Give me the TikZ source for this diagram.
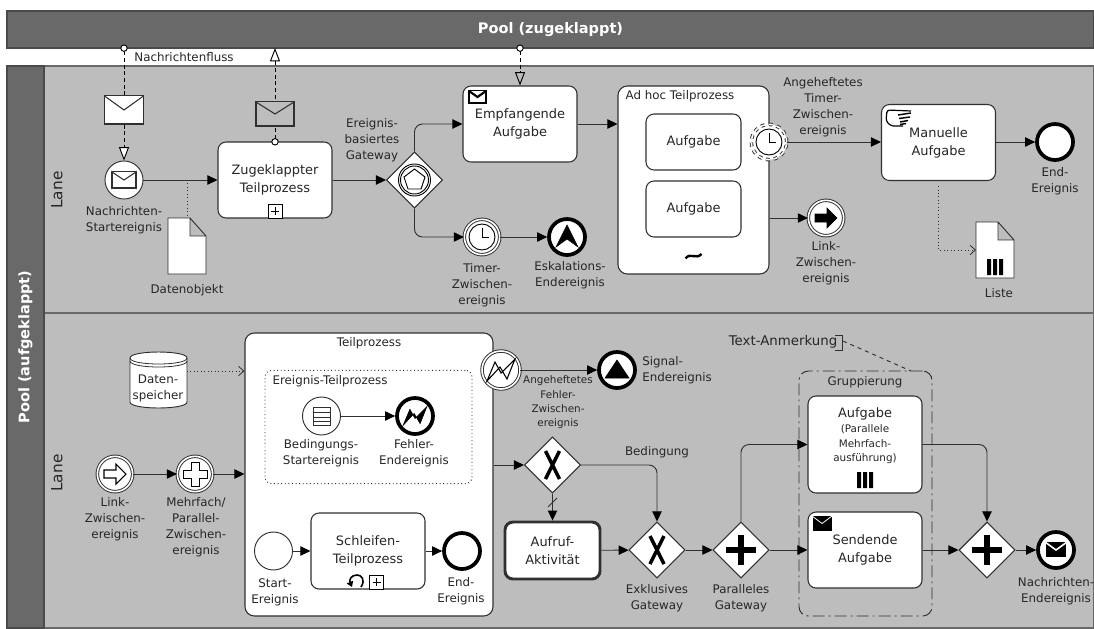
\documentclass[tikz,border=0pt]{standalone}
\usepackage{fontspec}
\setmainfont{DejaVu Sans}
\usetikzlibrary{shapes.geometric,arrows.meta}
\definecolor{poolgrau}{HTML}{696969}
\definecolor{lanegrau}{HTML}{BDBDBD}
\definecolor{liniengrau}{HTML}{303030}
\definecolor{textgrau}{HTML}{262626}
\tikzset{
 beschr/.style={font=\fontsize{8.9}{12}\selectfont,align=center,inner sep=0pt,text=textgrau},
 klein/.style={beschr,font=\fontsize{7.8}{10.8}\selectfont},
 pool/.style={fill=poolgrau,draw=poolgrau!70!black,line width=0.8pt,text=white,inner sep=0pt,font=\fontsize{10.9}{13}\bfseries\selectfont},
 lane/.style={fill=lanegrau,draw=poolgrau,line width=1pt,inner sep=0pt},
 lanetext/.style={rotate=90,inner sep=0pt,text=textgrau,font=\fontsize{11.5}{14}\selectfont},
 aufgabe/.style={draw=liniengrau,fill=white,line width=0.8pt,rounded corners=6pt,align=center,inner sep=0pt,text=textgrau,
  minimum width=85.5pt,minimum height=57pt,font=\fontsize{9.7}{13.5}\selectfont},
 ereignis/.style={circle,draw=liniengrau,fill=white,line width=0.7pt,minimum size=28.5pt,inner sep=0pt},
 zwischen/.style={ereignis,double=white,double distance=1.2pt,minimum size=26.5pt},
 ende/.style={ereignis,draw=black,line width=2.8pt,minimum size=27pt},
 gateway/.style={diamond,aspect=1,draw=liniengrau,fill=white,line width=0.8pt,minimum size=42pt,inner sep=0pt},
 flow/.style={->,>={Triangle[length=7.5pt,width=7pt,color=black]},draw=liniengrau,line width=0.7pt,rounded corners=6pt},
 msgflow/.style={{Circle[fill=white,length=5.5pt]}-{Triangle[fill=#1,length=10pt,width=7.5pt]},densely dashed,draw=black,line width=0.7pt},
 msgflow/.default=white,
 assoc/.style={dotted,draw=liniengrau,line width=0.6pt},
 assocpfeil/.style={assoc,->,>={Straight Barb[length=4pt,width=7pt]}},
 icon/.style={draw=black,line width=0.7pt},
 brief/.pic={
  \draw[pic actions] (-1,-1) rectangle (1,1);
  \draw[pic actions] (-1,-1) -- (0,0) -- (1,-1);
 },
 uhr/.pic={
  \draw[icon] (0,0) circle[radius=13];
  \draw[icon] (0,-9) -- (0,0) -- (7,0);
 },
 linkpfeil/.pic={\draw[pic actions] (-11,-4) -- (1,-4) -- (1,-10) -- (11,0) -- (1,10) -- (1,4) -- (-11,4) -- cycle;},
 blitz/.pic={\draw[pic actions] (-14,11) -- (-6,-8) -- (0,3) -- (14,-11) -- (6,9) -- (-1,-3) -- cycle;},
 xzeichen/.pic={\draw[line width=2.6pt] (-7,-14) -- (7,14) (7,-14) -- (-7,14);},
 pluszeichen/.pic={\draw[line width=4.2pt] (-15,0) -- (15,0) (0,-15) -- (0,15);},
 balken/.pic={\fill[black] (-8,-8) rectangle (-4,8) (-2,-8) rectangle (2,8) (4,-8) rectangle (8,8);},
 plusbox/.pic={
  \draw[icon,fill=white] (-7,-7) rectangle (7,7);
  \draw[icon] (-4,0) -- (4,0) (0,-4) -- (0,4);
 },
 dokument/.pic={\draw[draw=liniengrau,fill=white,line width=0.7pt] (-19,-28) -- (3,-28) -- (19,-10) -- (19,28) -- (-19,28) -- cycle (3,-28) -- (3,-10) -- (19,-10);}
}
\begin{document}
\begin{tikzpicture}[x=0.75pt,y=-0.75pt]
 \useasboundingbox (0,0) rectangle (1094,628);
 % Pools und Lanes
 \node[pool,minimum width=815.25pt,minimum height=27.75pt] (poolzu) at (550.5,29.5) {Pool (zugeklappt)};
 \node[lane,minimum width=787.5pt,minimum height=185.25pt] (lane1) at (569,189.5) {};
 \node[lane,minimum width=787.5pt,minimum height=236.25pt] (lane2) at (569,470.5) {};
 \node[pool,rotate=90,minimum width=421.5pt,minimum height=27.75pt] (poolauf) at (25.5,347) {Pool (aufgeklappt)};
 \node[lanetext] (lane1text) at (57,190) {Lane};
 \node[lanetext] (lane2text) at (57,473) {Lane};

 % obere Lane
 \node[ereignis] (nstart) at (124,180) {};
 \node[aufgabe] (zugeklappt) at (275,180) {Zugeklappter\\Teilprozess};
 \node[gateway] (egw) at (414.5,180) {};
 \node[aufgabe] (empfang) at (520,124) {Empfangende\\Aufgabe};
 \node[zwischen] (timer) at (482,237) {};
 \node[ende] (eskal) at (567,237) {};
 \node[aufgabe,rounded corners=7pt,minimum width=113.25pt,minimum height=141pt] (adhoc) at (693.5,180) {};
 \node[aufgabe,minimum width=71.25pt,minimum height=42pt] (adhoc1) at (693.5,142) {Aufgabe};
 \node[aufgabe,minimum width=71.25pt,minimum height=42pt] (adhoc2) at (693.5,209) {Aufgabe};
 \node[zwischen,dashed] (atimer) at (769,142) {};
 \node[aufgabe] (manuell) at (938.5,142.5) {Manuelle\\Aufgabe};
 \node[ende] (end1) at (1055,142) {};
 \node[zwischen] (link1) at (826,218) {};
 \coordinate (pz1) at (124,44.5);
 \coordinate (pz2) at (275,48);
 \coordinate (pz3) at (520,44.5);
 \coordinate (zugtop) at (275,145.5);
 \coordinate (dobj) at (187,218);
 \coordinate (liste) at (976,250);

 \draw[msgflow] (pz1) -- (nstart);
 \draw[msgflow] (zugtop) -- (pz2);
 \draw[msgflow=lanegrau] (pz3) -- (empfang);
 \draw[flow] (nstart) -- (zugeklappt);
 \draw[flow] (zugeklappt) -- (egw);
 \draw[flow] (egw.north) |- (empfang.west);
 \draw[flow] (egw.south) |- (timer.west);
 \draw[flow] (timer) -- (eskal);
 \draw[flow] (empfang) -- (empfang-|adhoc.west);
 \draw[flow] (atimer) -- (manuell.west|-atimer);
 \draw[flow] (manuell.east|-end1) -- (end1);
 \draw[flow] (link1-|adhoc.east) -- (link1);
 \draw[assoc] (187,180) -- (dobj);
 \draw[assocpfeil] (manuell.south) ++(0,5) |- (liste);

 \pic[draw=liniengrau,fill=white,xscale=19.5,yscale=14,line width=0.8pt] at (124,110) {brief};
 \pic[draw=liniengrau,fill=lanegrau,xscale=19,yscale=12,line width=0.8pt] at (275,114) {brief};
 \pic[draw=liniengrau,fill=white,xscale=12,yscale=8,line width=0.8pt] at (nstart) {brief};
 \pic at (275,211) {plusbox};
 \pic at (187,246) {dokument};
 \pic at (995,250) {dokument};
 \pic at (995,267) {balken};
 \draw[icon] (egw) circle[radius=16];
 \draw[icon] (egw) circle[radius=14];
 \draw[icon,fill=white] (414.5,169) -- (425,177) -- (421,189) -- (408,189) -- (404,177) -- cycle;
 \pic at (timer) {uhr};
 \pic at (atimer) {uhr};
 \draw[black,fill=black] (567,225) -- (578,247) -- (567,239) -- (556,247) -- cycle;
 \pic[draw=black,fill=black] at (link1) {linkpfeil};
 \pic[draw=black,fill=white,line width=1.6pt,xscale=8.5,yscale=6] at (477.5,97) {brief};
 \draw[black,line width=0.9pt,rounded corners=2pt] (911,111) -- (887,110) -- (886,121) -- (891,126) -- (903,126);
 \draw[black,line width=1.1pt] (898,115) -- (911,113) (899,118.5) -- (910,117) (900,122) -- (908,120.5) (900,124.5) -- (906,123.5);
 \draw[black,line width=1.8pt] (685.5,258.5) .. controls (690,252) and (696,260) .. (701.5,254);

 \node[beschr] (tnfluss) at (184,57) {Nachrichtenfluss};
 \node[beschr] (tnstart) at (124,220) {Nachrichten-\\Startereignis};
 \node[beschr] (tdobj) at (187,290) {Datenobjekt};
 \node[beschr] (tegw) at (372,140) {Ereignis-\\basiertes\\Gateway};
 \node[beschr] (ttimer) at (482,285) {Timer-\\Zwischen-\\ereignis};
 \node[beschr] (teskal) at (570,275.5) {Eskalations-\\Endereignis};
 \node[beschr] (tadhoc) at (680,96) {Ad hoc Teilprozess};
 \node[beschr] (tatimer) at (823,107) {Angeheftetes\\Timer-\\Zwischen-\\ereignis};
 \node[beschr] (tlink1) at (826,263) {Link-\\Zwischen-\\ereignis};
 \node[beschr] (tend1) at (1055,181) {End-\\Ereignis};
 \node[beschr] (tliste) at (999,293) {Liste};

 % untere Lane
 \node[aufgabe,rounded corners=7pt,minimum width=186pt,minimum height=212.25pt] (teilproz) at (369,474.5) {};
 \node[draw=liniengrau,dotted,rounded corners=5pt,line width=0.7pt,minimum width=155.25pt,minimum height=85pt,inner sep=0pt] (etp) at (368.5,427) {};
 \node[ereignis] (bed) at (321.5,416) {};
 \node[ende] (fehler) at (415,416) {};
 \node[zwischen] (link2) at (115,474) {};
 \node[zwischen] (mehrfach) at (195,474) {};
 \node[ereignis] (start) at (273.5,551) {};
 \node[aufgabe] (schleife) at (368,551) {Schleifen-\\Teilprozess};
 \node[ende] (end2) at (462,551) {};
 \node[zwischen,minimum size=28.5pt] (afehler) at (501,370) {};
 \node[ende] (signal) at (617,370) {};
 \node[gateway] (xgw1) at (552.5,465) {};
 \node[aufgabe,line width=2.2pt,minimum width=71.25pt,minimum height=42.75pt] (aufruf) at (552.5,550.5) {Aufruf-\\Aktivität};
 \node[gateway] (xgw2) at (657,550) {};
 \node[gateway] (pgw1) at (741,550) {};
 \node[aufgabe,minimum height=72.75pt] (mehrf) at (865,444.5) {};
 \node[aufgabe] (sendend) at (865,550) {Sendende\\Aufgabe};
 \node[gateway] (pgw2) at (987,550) {};
 \node[ende] (nend) at (1056,550) {};
 \node[draw=liniengrau,dash pattern=on 9pt off 3pt on 1.5pt off 3pt,rounded corners=7pt,line width=0.7pt,minimum width=99.75pt,minimum height=183.75pt,inner sep=0pt] (grp) at (865.5,493.5) {};
 \coordinate (dsp) at (187,371);
 \coordinate (anmr) at (843,341);
 \coordinate (anmg) at (911,371);

 \draw[assocpfeil] (dsp) -- (dsp-|teilproz.west);
 \draw[flow] (bed) -- (fehler);
 \draw[flow] (link2) -- (mehrfach);
 \draw[flow] (mehrfach) -- (mehrfach-|teilproz.west);
 \draw[flow] (start) -- (schleife);
 \draw[flow] (schleife) -- (end2);
 \draw[flow] (afehler) -- (signal);
 \draw[flow] (xgw1-|teilproz.east) -- (xgw1);
 \draw[flow] (xgw1) -- (aufruf);
 \draw[liniengrau,line width=0.7pt] (548,507) -- (557,498);
 \draw[flow] (xgw1.east) -| (xgw2.north);
 \draw[flow] (aufruf) -- (xgw2);
 \draw[flow] (xgw2) -- (pgw1);
 \draw[flow] (pgw1.north) |- (mehrf.west);
 \draw[flow] (pgw1) -- (sendend);
 \draw[flow] (mehrf.east) -| (pgw2.north);
 \draw[flow] (sendend) -- (pgw2);
 \draw[flow] (pgw2) -- (nend);
 \draw[dashed,draw=liniengrau,line width=0.7pt] (anmr) -- (anmg);
 \draw[liniengrau,line width=0.6pt] (835,335) -- (842,335) -- (842,350) -- (835,350);

 \draw[liniengrau,fill=white,line width=0.7pt] (130,358) -- (130,402) .. controls (130,410) and (187,410) .. (187,402) -- (187,358) .. controls (187,350) and (130,350) .. (130,358) -- cycle;
 \draw[liniengrau,line width=0.6pt] (130,358) .. controls (130,366) and (187,366) .. (187,358) (130,361) .. controls (130,369) and (187,369) .. (187,361);
 \draw[liniengrau,line width=0.7pt] (313,407) rectangle (330,425) (313,412) -- (330,412) (313,417) -- (330,417) (313,421) -- (330,421);
 \pic[draw=black,fill=black,scale=0.85] at (fehler) {blitz};
 \pic[draw=black,fill=white,line width=0.8pt] at (afehler) {blitz};
 \pic[draw=black,fill=white,line width=0.8pt] at (link2) {linkpfeil};
 \draw[icon,fill=white] (191,462) -- (199,462) -- (199,470) -- (207,470) -- (207,478) -- (199,478) -- (199,486) -- (191,486) -- (191,478) -- (183,478) -- (183,470) -- (191,470) -- cycle;
 \draw[black,fill=black] (617,360) -- (629,378) -- (605,378) -- cycle;
 \pic at (xgw1) {xzeichen};
 \pic at (xgw2) {xzeichen};
 \pic at (pgw1) {pluszeichen};
 \pic at (pgw2) {pluszeichen};
 \pic at (376.5,582) {plusbox};
 \draw[black,line width=1.2pt,->,>={Triangle[length=4pt,width=5pt]}] (361,587) .. controls (366,579) and (361,575) .. (357,575) .. controls (351,575) and (349,580) .. (352,587);
 \pic at (865,480) {balken};
 \pic[draw=white,fill=black,line width=0.6pt,xscale=10,yscale=7.5] at (822,523.5) {brief};
 \pic[draw=white,fill=black,line width=1.2pt,xscale=11,yscale=8] at (1056,550) {brief};

 \node[beschr] (tdsp) at (158,388) {Daten-\\speicher};
 \node[beschr] (ttp) at (369,343) {Teilprozess};
 \node[beschr] (tetp) at (330,381) {Ereignis-Teilprozess};
 \node[beschr] (tbed) at (321,453) {Bedingungs-\\Startereignis};
 \node[beschr] (tfehler) at (414,453) {Fehler-\\Endereignis};
 \node[beschr] (tlink2) at (115,519) {Link-\\Zwischen-\\ereignis};
 \node[beschr] (tmehrf) at (196,527) {Mehrfach/\\Parallel-\\Zwischen-\\ereignis};
 \node[beschr] (tstart) at (275,592) {Start-\\Ereignis};
 \node[beschr] (tend2) at (461,591) {End-\\Ereignis};
 \node[beschr,anchor=west,align=left] (tsignal) at (642,370) {Signal-\\Endereignis};
 \node[klein] (tafehler) at (558,402.5) {Angeheftetes\\Fehler-\\Zwischen-\\ereignis};
 \node[beschr] (tbedg) at (657,452) {Bedingung};
 \node[beschr] (txgw) at (657,598) {Exklusives\\Gateway};
 \node[beschr] (tpgw) at (741,598) {Paralleles\\Gateway};
 \node[beschr,font=\fontsize{10}{12}\selectfont] (tanm) at (783,342) {Text-Anmerkung};
 \node[beschr] (tgrp) at (865,382) {Gruppierung};
 \node[aufgabe,draw=none,fill=none,minimum width=0pt,minimum height=0pt] (tmehrf1) at (865,414) {Aufgabe};
 \node[klein] (tmehrf2) at (865,444.5) {(Parallele\\Mehrfach-\\ausführung)};
 \node[beschr] (tnend) at (1056,591.5) {Nachrichten-\\Endereignis};
\end{tikzpicture}
\end{document}
